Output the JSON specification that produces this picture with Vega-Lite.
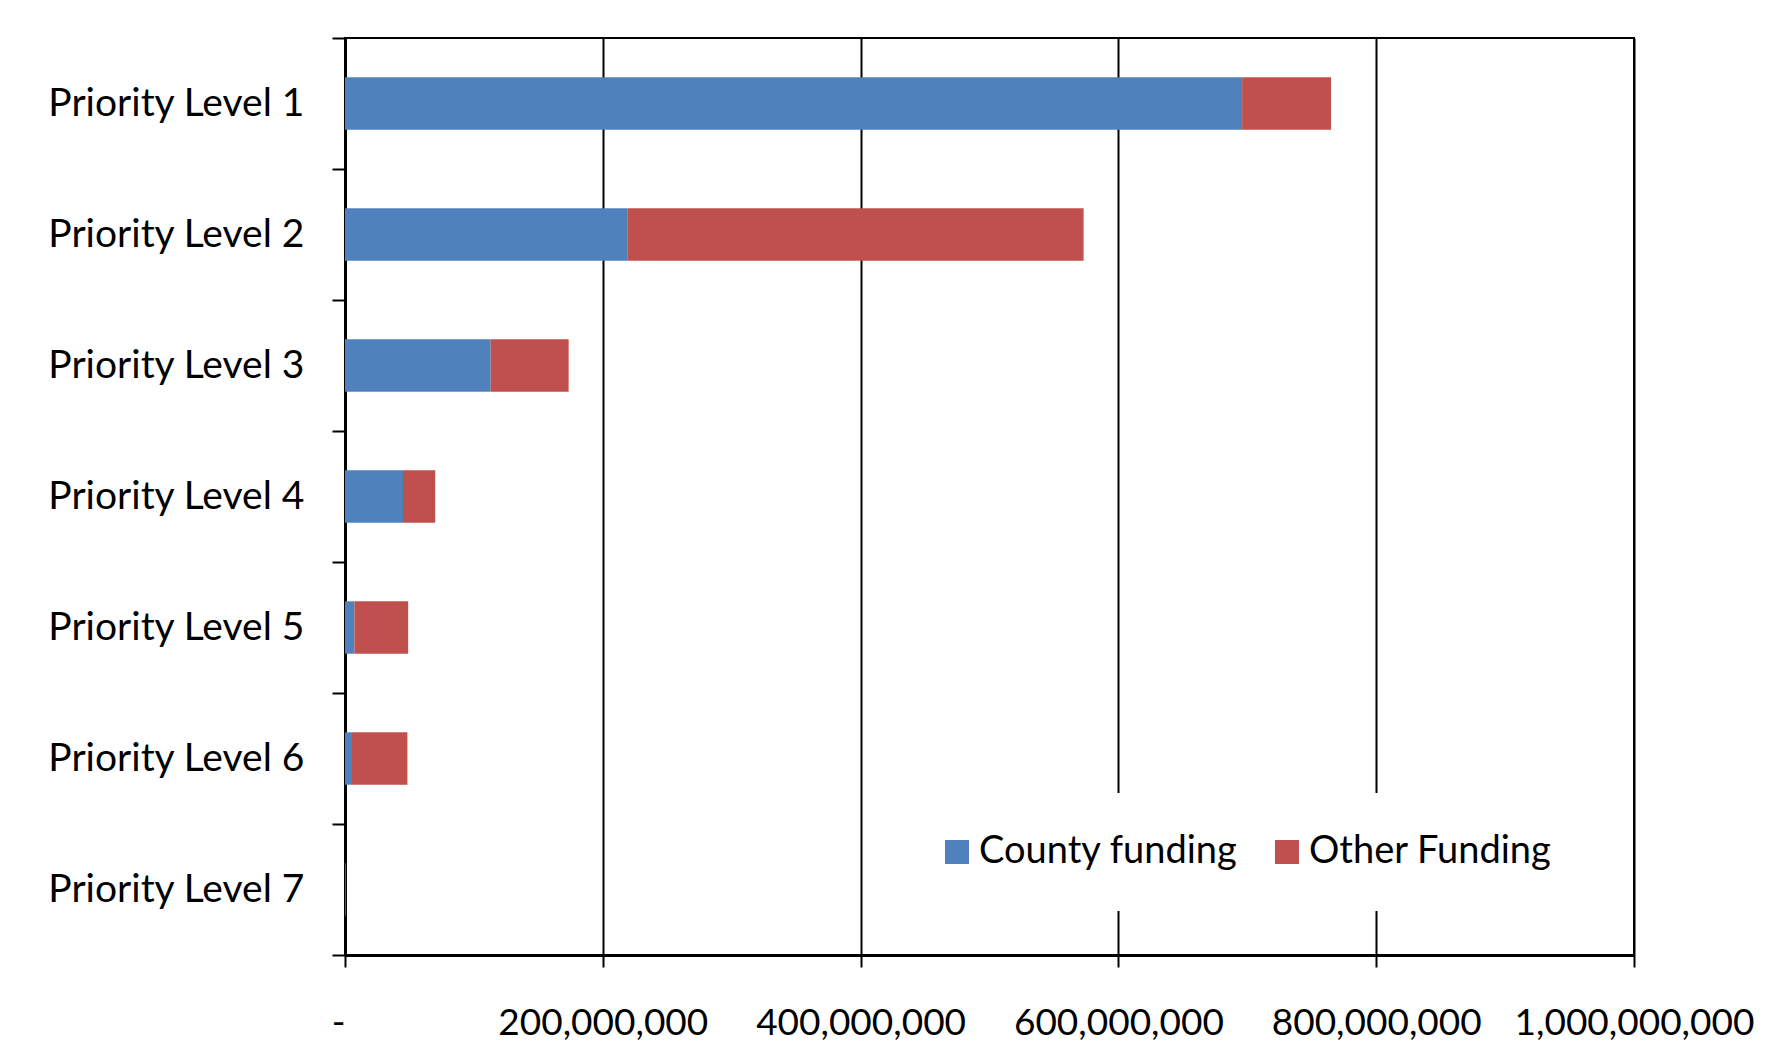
{
  "$schema": "https://vega.github.io/schema/vega-lite/v6.json",
  "width": 1289,
  "height": 917,
  "autosize": {"type": "none"},
  "padding": {"left": 345, "top": 38, "right": 155, "bottom": 105},
  "background": "white",
  "config": {"font": "Lato", "view": {"stroke": "black", "strokeWidth": 2}},
  "data": {
    "values": [
      {"level": "Priority Level 1", "type": "County funding", "amount": 696000000},
      {"level": "Priority Level 1", "type": "Other Funding", "amount": 69000000},
      {"level": "Priority Level 2", "type": "County funding", "amount": 219000000},
      {"level": "Priority Level 2", "type": "Other Funding", "amount": 354000000},
      {"level": "Priority Level 3", "type": "County funding", "amount": 113000000},
      {"level": "Priority Level 3", "type": "Other Funding", "amount": 60500000},
      {"level": "Priority Level 4", "type": "County funding", "amount": 45000000},
      {"level": "Priority Level 4", "type": "Other Funding", "amount": 25000000},
      {"level": "Priority Level 5", "type": "County funding", "amount": 7300000},
      {"level": "Priority Level 5", "type": "Other Funding", "amount": 41700000},
      {"level": "Priority Level 6", "type": "County funding", "amount": 4700000},
      {"level": "Priority Level 6", "type": "Other Funding", "amount": 43700000},
      {"level": "Priority Level 7", "type": "County funding", "amount": 500000},
      {"level": "Priority Level 7", "type": "Other Funding", "amount": 300000}
    ]
  },
  "mark": {"type": "bar", "height": {"band": 0.4}},
  "encoding": {
    "y": {
      "field": "level",
      "type": "nominal",
      "scale": {"paddingInner": 0, "paddingOuter": 0},
      "axis": {
        "title": null,
        "tickBand": "extent",
        "tickSize": 13,
        "tickColor": "black",
        "tickWidth": 2,
        "domainColor": "black",
        "domainWidth": 3,
        "labelFontSize": 39,
        "labelColor": "black",
        "labelPadding": 28,
        "labelLimit": 400,
        "grid": false
      }
    },
    "x": {
      "field": "amount",
      "type": "quantitative",
      "stack": "zero",
      "scale": {"domain": [0, 1000000000], "nice": false},
      "axis": {
        "title": null,
        "values": [0, 200000000, 400000000, 600000000, 800000000, 1000000000],
        "labelExpr": "datum.value == 0 ? '-' : format(datum.value, ',')",
        "labelAlign": {"condition": {"test": "datum.value == 0", "value": "right"}, "value": "center"},
        "grid": true,
        "gridColor": "black",
        "gridWidth": 2,
        "gridOpacity": 1,
        "tickSize": 12,
        "tickColor": "black",
        "tickWidth": 2,
        "domainColor": "black",
        "domainWidth": 3,
        "labelFontSize": 37,
        "labelColor": "black",
        "labelPadding": 38,
        "labelLimit": 400,
        "labelFlush": false,
        "labelOverlap": false
      }
    },
    "color": {
      "field": "type",
      "type": "nominal",
      "scale": {"domain": ["County funding", "Other Funding"], "range": ["#4F81BD", "#C0504D"]},
      "legend": {
        "title": null,
        "orient": "none",
        "legendX": 553,
        "legendY": 755,
        "direction": "horizontal",
        "fillColor": "white",
        "padding": 40,
        "symbolType": "square",
        "symbolSize": 576,
        "symbolStrokeWidth": 0,
        "symbolOpacity": 1,
        "labelFontSize": 38,
        "labelColor": "black",
        "labelOffset": 3,
        "labelLimit": 400,
        "columnPadding": 30
      }
    }
  }
}
